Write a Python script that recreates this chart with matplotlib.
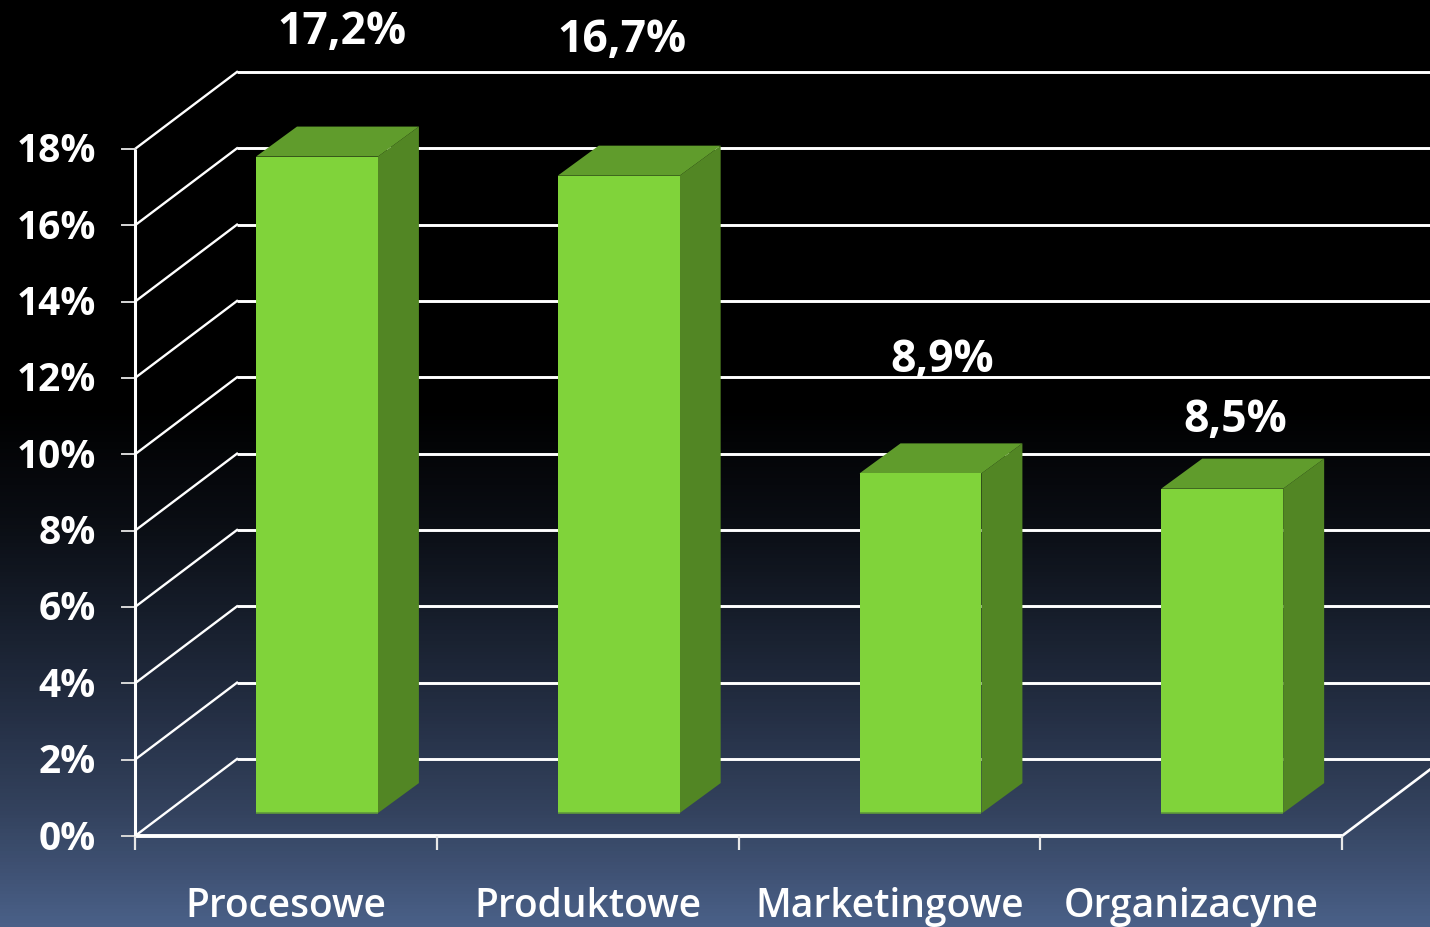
import numpy as np
import matplotlib
matplotlib.use("Agg")
import matplotlib.pyplot as plt
from matplotlib.colors import LinearSegmentedColormap
from matplotlib.patches import Polygon

categories = ["Procesowe", "Produktowe", "Marketingowe", "Organizacyne"]
values = [17.2, 16.7, 8.9, 8.5]
y_ticks = [0, 2, 4, 6, 8, 10, 12, 14, 16, 18]

W, H = 1430, 927
x0_px, x_unit = 135, 301.75   # pixel of x=0, pixels per category
y0_px, y_unit = 836, 38.17    # pixel of 0%, pixels per percent

depth_x, depth_y = 102 / x_unit, 77 / y_unit   # chart depth
bar_dx, bar_dy = 41 / x_unit, 30 / y_unit      # bar depth
bar_left, bar_width, bar_base = 0.401, 0.404, 0.6

front_col = "#80d33a"
side_col = "#528624"
top_col = "#609c2c"

plt.rcParams['font.family'] = ['Open Sans', 'DejaVu Sans']

fig = plt.figure(figsize=(W / 100, H / 100), dpi=100)
ax = fig.add_axes([0, 0, 1, 1])
xlim = (-x0_px / x_unit, (W - x0_px) / x_unit)
ylim = ((y0_px - H) / y_unit, y0_px / y_unit)
ax.set_xlim(xlim)
ax.set_ylim(ylim)
ax.axis('off')

# background gradient, top to bottom
bg = LinearSegmentedColormap.from_list("bg", [
    (0.0, "#000000"), (0.44, "#000000"), (0.56, "#0a0d13"),
    (0.66, "#161d2a"), (0.755, "#222c40"), (0.88, "#34435f"), (1.0, "#4a6088")])
ax.imshow(np.linspace(0, 1, 256).reshape(-1, 1), cmap=bg, aspect='auto',
          extent=(*xlim, ylim[0], ylim[1]), zorder=0)

# grid on the back wall and the diagonals of the side wall
for v in y_ticks:
    ax.plot([depth_x, xlim[1]], [v + depth_y, v + depth_y], color="white", lw=2.1,
            solid_capstyle='butt', zorder=1)
    ax.plot([0, depth_x], [v, v + depth_y], color="white", lw=1.7, zorder=1)
    ax.plot([-13 / x_unit, 0], [v, v], color="#d8d8d8", lw=1.4, zorder=2)

# floor edges and axes
ax.plot([0, 4], [0, 0], color="white", lw=2.8, solid_capstyle='butt', zorder=2)
ax.plot([0, 0], [0, 18], color="white", lw=2.2, solid_capstyle='butt', zorder=2)
ax.plot([4, 4 + depth_x], [0, depth_y], color="white", lw=1.9, zorder=2)
for i in range(5):
    ax.plot([i, i], [0, -14 / y_unit], color="#e8e8e8", lw=1.6, solid_capstyle='butt', zorder=2)

# 3d bars
for i, v in enumerate(values):
    xl = i + bar_left
    xr = xl + bar_width
    yb = bar_base
    yt = bar_base + v
    ax.add_patch(Polygon([(xl, yb), (xr, yb), (xr, yt), (xl, yt)], fc=front_col, ec='none', zorder=4))
    ax.add_patch(Polygon([(xr, yb), (xr + bar_dx, yb + bar_dy), (xr + bar_dx, yt + bar_dy), (xr, yt)],
                         fc=side_col, ec='none', zorder=3))
    ax.add_patch(Polygon([(xl, yt), (xr, yt), (xr + bar_dx, yt + bar_dy), (xl + bar_dx, yt + bar_dy)],
                         fc=top_col, ec='none', zorder=3))
    ax.plot([xl, xr], [yb, yb], color="#5f9a3a", lw=1.2, solid_capstyle='butt', zorder=5)


def px(x, y):
    return (x - x0_px) / x_unit, (y0_px - y) / y_unit


# value labels
label_px = [(342, 33), (622, 41), (942, 361), (1235, 421)]
for v, (lx, ly) in zip(values, label_px):
    ax.text(*px(lx, ly), f"{v:.1f}".replace('.', ',') + "%", color="white", fontsize=32,
            fontweight='bold', ha='center', va='center', zorder=6)

# y tick labels
for v in y_ticks:
    ax.text(px(96, 0)[0], v - 3 / y_unit, f"{v}%", color="white",
            fontsize=28, fontweight='bold', ha='right', va='center', zorder=6)

# category labels
cat_px = [286, 588, 890, 1191]
for c, lx in zip(categories, cat_px):
    ax.text(*px(lx, 907), c, color="white", fontsize=28, fontweight='semibold',
            ha='center', va='center', zorder=6)

fig.savefig("out.png", dpi=100)
